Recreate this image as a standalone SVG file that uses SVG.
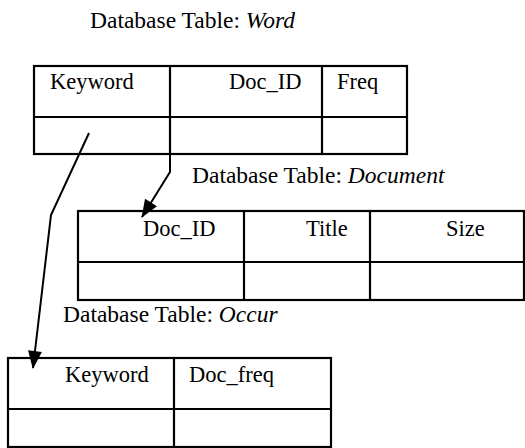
<svg xmlns="http://www.w3.org/2000/svg" width="525" height="448" viewBox="0 0 525 448">
<defs>
<style>
text{font-family:"Liberation Serif","Times New Roman",serif;font-size:22.5px;fill:#000}
.hd{font-size:23.5px}
.it{font-style:italic}
.tb{fill:none;stroke:#000;stroke-width:2.2}
.cn{fill:none;stroke:#000;stroke-width:2}
</style>
<marker id="ah" viewBox="0 0 18 14" refX="17" refY="7" markerWidth="18" markerHeight="14" markerUnits="userSpaceOnUse" orient="auto" overflow="visible">
<path d="M0,0 L18,7 L0,14 z" fill="#000"/>
</marker>
</defs>
<rect width="525" height="448" fill="#fff"/>
<g id="word">
<text class="hd" x="90" y="28">Database Table: <tspan class="it">Word</tspan></text>
<rect class="tb" x="34" y="66" width="373" height="88"/>
<path class="tb" d="M34,117H407M170,66V154M322,66V154"/>
<text x="50" y="89">Keyword</text>
<text x="229" y="89">Doc_ID</text>
<text x="337" y="89">Freq</text>
</g>
<g id="document">
<text class="hd" x="192" y="183">Database Table: <tspan class="it">Document</tspan></text>
<rect class="tb" x="78" y="211" width="446" height="89"/>
<path class="tb" d="M78,262H524M244,211V300M370,211V300"/>
<text x="143" y="236">Doc_ID</text>
<text x="306" y="236">Title</text>
<text x="446" y="236">Size</text>
</g>
<g id="occur">
<text class="hd" x="63" y="322">Database Table: <tspan class="it">Occur</tspan></text>
<rect class="tb" x="8" y="358" width="323" height="89"/>
<path class="tb" d="M8,409H331M174,358V447"/>
<text x="65" y="382">Keyword</text>
<text x="189" y="382">Doc_freq</text>
</g>
<g id="connectors">
<path class="cn" d="M170,154V172L142,217" marker-end="url(#ah)"/>
<path class="cn" d="M89,133L51,215L33,368" marker-end="url(#ah)"/>
</g>
</svg>
